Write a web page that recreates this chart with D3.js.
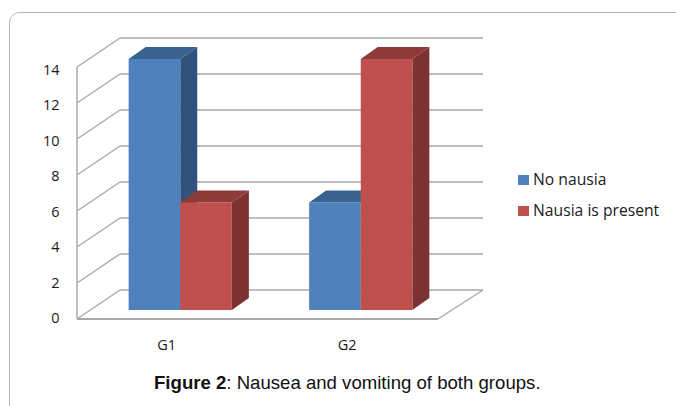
<!DOCTYPE html>
<html><head><meta charset="utf-8">
<script src="https://cdn.jsdelivr.net/npm/d3@7/dist/d3.min.js"></script>
<style>html,body{margin:0;padding:0;background:#fff}svg{display:block}</style>
</head><body><div id="c"></div>
<script>
const categories = ["G1", "G2"];
const seriesNames = ["No nausia", "Nausia is present"];
const noNausia = [14, 6];
const nausiaPresent = [6, 14];
const yTicks = [0, 2, 4, 6, 8, 10, 12, 14];
const captionBold = "Figure 2";
const captionRest = ": Nausea and vomiting of both groups.";

const W = 676, H = 406;
const svg = d3.select("#c").append("svg").attr("width", W).attr("height", H);
const font = "'Open Sans', sans-serif";
const gridCol = "#a9a9a9";

// panel
svg.append("path")
  .attr("d", "M9.5,406V22.5a10,10 0 0 1 10,-10H676")
  .attr("fill", "none").attr("stroke", "#b4b4b4").attr("stroke-width", 1);

const y = d3.scaleLinear().domain([0, 14]).range([319, 67]);
const yLabel = d3.scaleLinear().domain([0, 14]).range([318, 69.5]);
const x0 = d3.scaleBand().domain(categories).range([77, 438]);
const wallDx = 43, wallDy = -29;      // full floor depth
const backRight = 483;
const barInset = [13, -9], barDepth = [17, -12];
const barW = 51.6;

const g = svg.append("g");
const line = (x1, y1, x2, y2, w) => g.append("line")
  .attr("x1", x1).attr("y1", y1).attr("x2", x2).attr("y2", y2)
  .attr("stroke", gridCol).attr("stroke-width", w || 1.4);

// gridlines: side wall + back wall
yTicks.forEach(t => {
  line(x0.range()[0], y(t), x0.range()[0] + wallDx, y(t) + wallDy);
  line(x0.range()[0] + wallDx, y(t) + wallDy, backRight, y(t) + wallDy);
});
// axis wall + floor
line(77, y(0), 77, y(14), 1.5);
line(77, y(0), 438, y(0), 1.8);
line(438, y(0), backRight, y(0) + wallDy, 1.4);

// bars
const base = y(0) + barInset[1];
const yBar = d3.scaleLinear().domain([0, 14]).range([base, 59]);
const series = [
  { name: seriesNames[0], values: noNausia, front: "#4f81bd", top: "#3a6291", side: "#31527a" },
  { name: seriesNames[1], values: nausiaPresent, front: "#c0504d", top: "#8e3a38", side: "#7c3230" }
];
const cuboid = (xL, val, s) => {
  const t = yBar(val), xR = xL + barW, [dx, dy] = barDepth;
  const b = g.append("g");
  b.append("path").attr("d", d3.line()([[xR, t], [xR + dx, t + dy], [xR + dx, base + dy], [xR, base]]) + "Z").attr("fill", s.side);
  b.append("path").attr("d", d3.line()([[xL, t], [xL + dx, t + dy], [xR + dx, t + dy], [xR, t]]) + "Z").attr("fill", s.top);
  b.append("rect").attr("x", xL).attr("y", t).attr("width", barW).attr("height", base - t).attr("fill", s.front);
};
categories.forEach((c, i) => {
  const cx = x0(c) + x0.bandwidth() / 2 + barInset[0];
  [0, 1].forEach(k => cuboid(cx - barW + k * barW, series[k].values[i], series[k]));
});

// y labels
yTicks.forEach(t => {
  svg.append("text").attr("x", 59.5).attr("y", yLabel(t) + 5).attr("text-anchor", "end")
    .attr("font-family", font).attr("font-size", 14.5).attr("fill", "#1a1a1a").text(t);
});
// x labels
categories.forEach(c => {
  svg.append("text").attr("x", x0(c) + x0.bandwidth() / 2 - 0.5).attr("y", 350).attr("text-anchor", "middle")
    .attr("font-family", font).attr("font-size", 14.5).attr("fill", "#1a1a1a").text(c);
});

// legend
const ly = d3.scalePoint().domain(seriesNames).range([180, 211]);
series.forEach(s => {
  svg.append("rect").attr("x", 518).attr("y", ly(s.name) - 5).attr("width", 11).attr("height", 10).attr("fill", s.front);
  svg.append("text").attr("x", 533).attr("y", ly(s.name) + 5).attr("font-family", font).attr("font-size", 15.7)
    .attr("fill", "#1a1a1a").text(s.name);
});

// caption
const cap = svg.append("text").attr("x", 154).attr("y", 389).attr("font-family", "'Liberation Sans', Arial, sans-serif")
  .attr("font-size", 18.6).attr("fill", "#111");
cap.append("tspan").attr("font-weight", "bold").text(captionBold);
cap.append("tspan").text(captionRest);
</script></body></html>
